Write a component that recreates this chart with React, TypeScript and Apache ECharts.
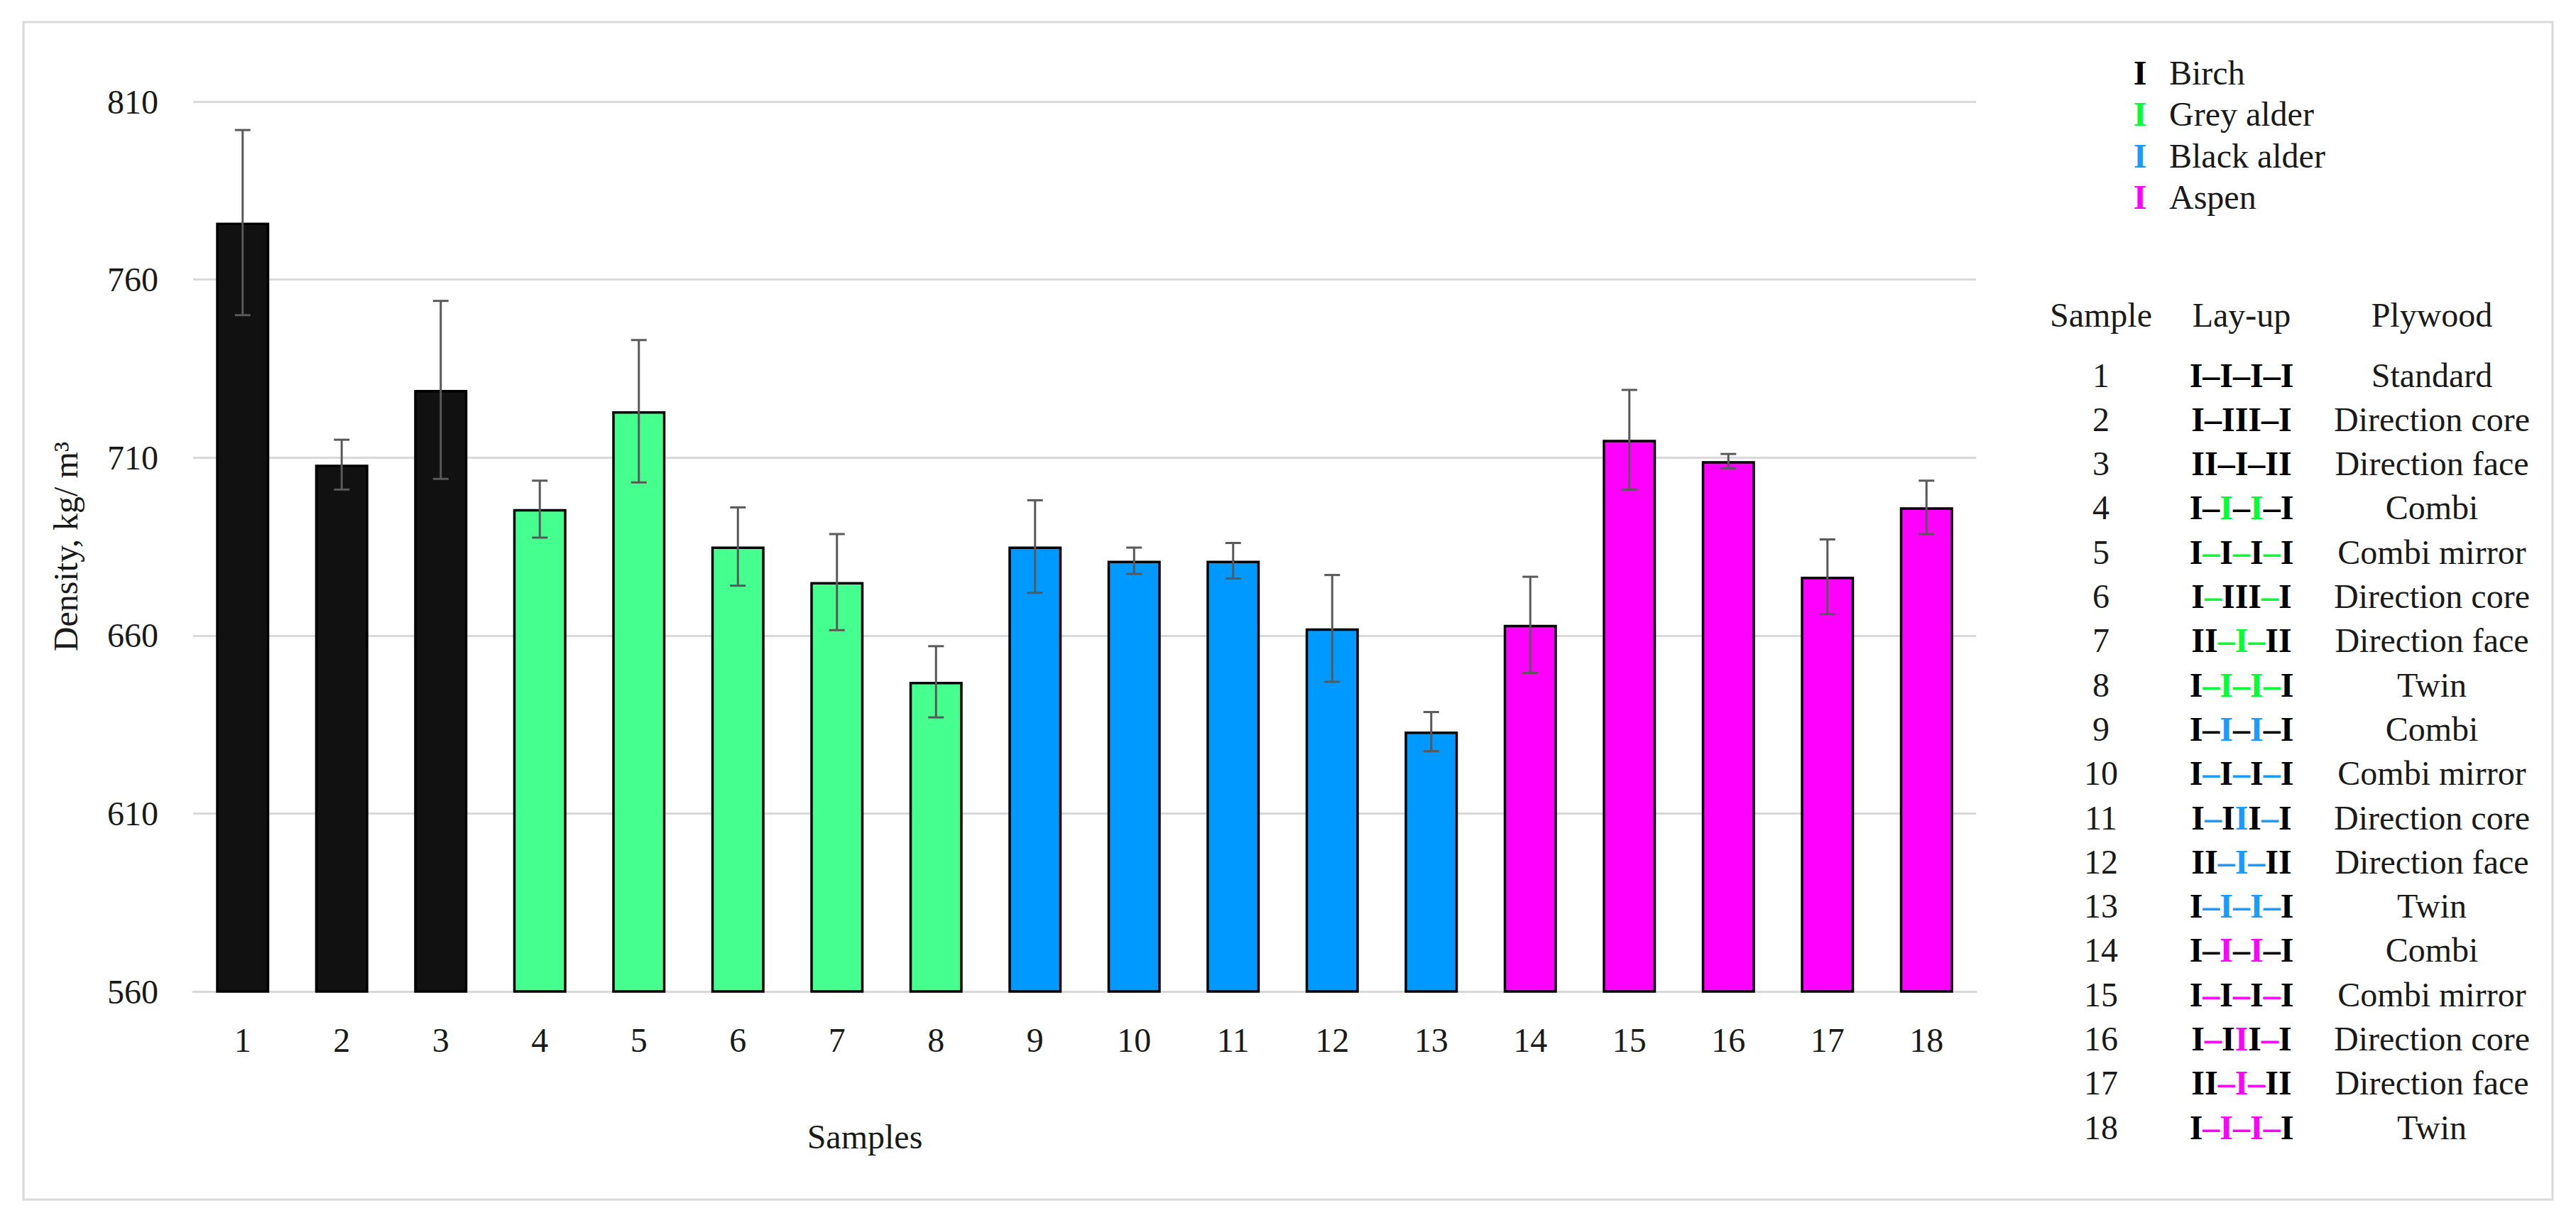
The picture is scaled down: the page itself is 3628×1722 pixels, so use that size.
import React, { useEffect, useRef } from "react";
import * as echarts from "echarts";

// ---------- data ----------
const categories = ["1", "2", "3", "4", "5", "6", "7", "8", "9", "10", "11", "12", "13", "14", "15", "16", "17", "18"];
const density = [776, 708, 729, 695.5, 723, 685, 675, 647, 685, 681, 681, 662, 633, 663, 715, 709, 676.5, 696];
const densityErr = [26, 7, 25, 8, 20, 11, 13.5, 10, 13, 3.7, 5, 15, 5.5, 13.5, 14, 2, 10.5, 7.5];
const speciesOfSample = [0, 0, 0, 1, 1, 1, 1, 1, 2, 2, 2, 2, 2, 3, 3, 3, 3, 3];
const speciesNames = ["Birch", "Grey alder", "Black alder", "Aspen"];
const barColors = ["#111111", "#45FF8E", "#0099FF", "#FF00FF"];
const markColors = ["#000000", "#00FF33", "#1A9BFF", "#FF00FF"];
// lay-up notation: segments inside {} are coloured with the sample's species colour
const layups = [
  "I–I–I–I", "I–III–I", "II–I–II",
  "I–{I}–{I}–I", "I{–}I{–}I{–}I", "I{–}III{–}I", "II{–I–}II", "I{–I–I–}I",
  "I–{I}–{I}–I", "I{–}I{–}I{–}I", "I{–}I{I}I{–}I", "II{–I–}II", "I{–I–I–}I",
  "I–{I}–{I}–I", "I{–}I{–}I{–}I", "I{–}I{I}I{–}I", "II{–I–}II", "I{–I–I–}I",
];
const plywoodTypes = [
  "Standard", "Direction core", "Direction face",
  "Combi", "Combi mirror", "Direction core", "Direction face", "Twin",
  "Combi", "Combi mirror", "Direction core", "Direction face", "Twin",
  "Combi", "Combi mirror", "Direction core", "Direction face", "Twin",
];
const yMin = 560;
const yMax = 810;
const yInterval = 50;

const FONT = "'Palatino Linotype', 'Book Antiqua', 'Liberation Serif', serif";
const FS = 48;
const TXT = "#1a1a1a";

function layupRich(s: string, sp: number): string {
  let out = "";
  let buf = "";
  let colored = false;
  const flush = () => {
    if (buf) out += `{${colored ? "c" + sp : "k"}|${buf}}`;
    buf = "";
  };
  for (const ch of s) {
    if (ch === "{") { flush(); colored = true; }
    else if (ch === "}") { flush(); colored = false; }
    else buf += ch;
  }
  flush();
  return out;
}

export default function App() {
  const ref = useRef<HTMLDivElement>(null);

  useEffect(() => {
    if (!ref.current) return;
    const chart = echarts.init(ref.current, undefined, { renderer: "svg" });

    const richStyles: any = {
      k: { fill: "#000", fontFamily: FONT, fontSize: FS, fontWeight: "bold" },
    };
    markColors.forEach((c, i) => {
      richStyles["c" + i] = { fill: c, fontFamily: FONT, fontSize: FS, fontWeight: "bold" };
    });

    const graphics: any[] = [];
    // outer frame
    graphics.push({
      type: "rect",
      shape: { x: 33, y: 31, width: 3562, height: 1658 },
      style: { fill: "none", stroke: "#d9d9d9", lineWidth: 3 },
      silent: true,
    });
    // x-axis title
    graphics.push({
      type: "text",
      x: 1218, y: 1600,
      style: { text: "Samples", font: `${FS}px ${FONT}`, fill: TXT, textAlign: "center", textVerticalAlign: "middle" },
    });
    // species legend
    speciesNames.forEach((n, i) => {
      const y = 102 + i * 58.5;
      graphics.push({
        type: "text", x: 3014, y,
        style: { text: "I", font: `bold ${FS}px ${FONT}`, fill: markColors[i], textAlign: "center", textVerticalAlign: "middle" },
      });
      graphics.push({
        type: "text", x: 3055, y,
        style: { text: n, font: `${FS}px ${FONT}`, fill: TXT, textAlign: "left", textVerticalAlign: "middle" },
      });
    });
    // table header
    const colX = [2959, 3157, 3425];
    ["Sample", "Lay-up", "Plywood"].forEach((h, j) => {
      graphics.push({
        type: "text", x: colX[j], y: 443,
        style: { text: h, font: `${FS}px ${FONT}`, fill: TXT, textAlign: "center", textVerticalAlign: "middle" },
      });
    });
    categories.forEach((c, i) => {
      const y = 528 + i * 62.3;
      graphics.push({
        type: "text", x: colX[0], y,
        style: { text: c, font: `${FS}px ${FONT}`, fill: TXT, textAlign: "center", textVerticalAlign: "middle" },
      });
      graphics.push({
        type: "text", x: colX[1], y,
        style: {
          text: layupRich(layups[i], speciesOfSample[i]),
          rich: richStyles,
          font: `bold ${FS}px ${FONT}`,
          textAlign: "center", textVerticalAlign: "middle",
        },
      });
      graphics.push({
        type: "text", x: colX[2], y,
        style: { text: plywoodTypes[i], font: `${FS}px ${FONT}`, fill: TXT, textAlign: "center", textVerticalAlign: "middle" },
      });
    });

    const option: any = {
      animation: false,
      backgroundColor: "#ffffff",
      textStyle: { fontFamily: FONT },
      grid: { left: 272, right: 845, top: 143, bottom: 326, containLabel: false },
      xAxis: {
        type: "category",
        data: categories,
        axisLine: { show: true, lineStyle: { color: "#d9d9d9", width: 3 } },
        axisTick: { show: false },
        axisLabel: { color: TXT, fontSize: FS, fontFamily: FONT, margin: 44 },
      },
      yAxis: {
        type: "value",
        min: yMin,
        max: yMax,
        interval: yInterval,
        name: "Density, kg/ m³",
        nameLocation: "middle",
        nameGap: 156,
        nameTextStyle: { color: TXT, fontSize: FS, fontFamily: FONT },
        axisLine: { show: false },
        axisTick: { show: false },
        axisLabel: { color: TXT, fontSize: FS, fontFamily: FONT, margin: 49 },
        splitLine: { show: true, lineStyle: { color: "#d9d9d9", width: 3 } },
      },
      series: [
        {
          type: "bar",
          barWidth: 75,
          data: density.map((v, i) => ({
            value: v,
            itemStyle: { color: barColors[speciesOfSample[i]] },
          })),
          itemStyle: { borderColor: "#000000", borderWidth: 3.5 },
          z: 2,
        },
        {
          type: "custom",
          z: 3,
          data: density.map((v, i) => [i, v - densityErr[i], v + densityErr[i]]),
          encode: { x: 0, y: [1, 2] },
          renderItem: (params: any, api: any) => {
            const x = api.value(0);
            const lo = api.coord([x, api.value(1)]);
            const hi = api.coord([x, api.value(2)]);
            const hw = 11;
            const style = { stroke: "#595959", lineWidth: 3 };
            return {
              type: "group",
              children: [
                { type: "line", shape: { x1: hi[0], y1: hi[1], x2: lo[0], y2: lo[1] }, style },
                { type: "line", shape: { x1: hi[0] - hw, y1: hi[1], x2: hi[0] + hw, y2: hi[1] }, style },
                { type: "line", shape: { x1: lo[0] - hw, y1: lo[1], x2: lo[0] + hw, y2: lo[1] }, style },
              ],
            };
          },
        },
      ],
      graphic: graphics,
    };

    chart.setOption(option);
    return () => chart.dispose();
  }, []);

  return (
    <div
      ref={ref}
      style={{ position: "fixed", left: 0, top: 0, width: 3628, height: 1722, background: "#fff" }}
    />
  );
}
